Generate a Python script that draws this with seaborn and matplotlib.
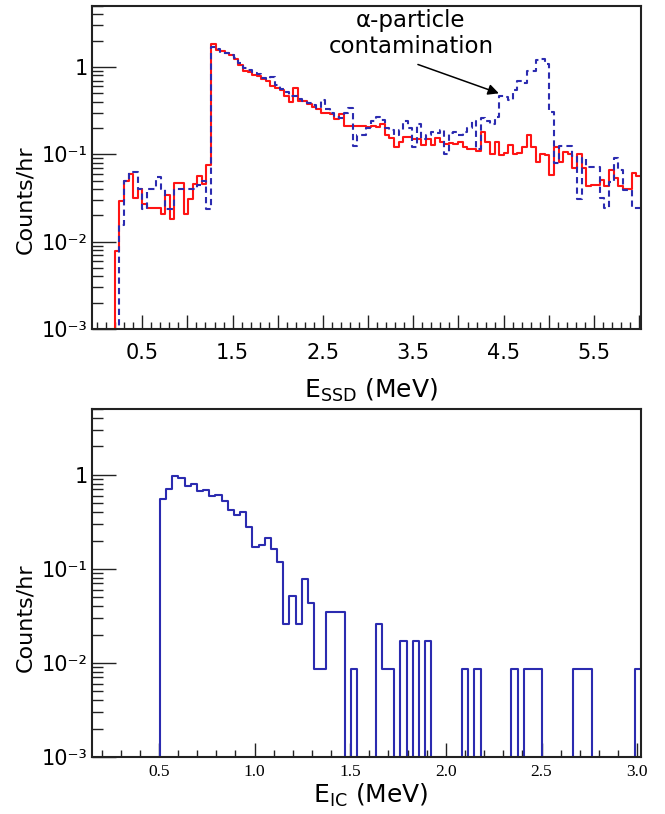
import numpy as np
import pandas as pd
import matplotlib
matplotlib.use("Agg")
import matplotlib.pyplot as plt
import seaborn as sns
from matplotlib.ticker import FixedLocator, FixedFormatter, MultipleLocator, LogLocator, NullFormatter

# ---------------- data ----------------
# SSD spectrum: 120 bins between ssd_lo and ssd_hi (MeV), counts/hr
ssd_lo, ssd_hi, ssd_nbins = -0.056, 6.02, 120
ssd_red = [
    0, 0, 0, 0, 0, 0.0079, 0.029, 0.05, 0.06, 0.0315,
    0.040, 0.027, 0.024, 0.024, 0.024, 0.021, 0.034, 0.018, 0.047, 0.047,
    0.021, 0.031, 0.046, 0.056, 0.046, 0.076, 1.82, 1.58, 1.53, 1.45,
    1.36, 1.22, 1.05, 0.90, 0.87, 0.82, 0.78, 0.72, 0.70, 0.61,
    0.58, 0.55, 0.47, 0.40, 0.57, 0.41, 0.41, 0.38, 0.35, 0.33,
    0.30, 0.30, 0.29, 0.255, 0.29, 0.214, 0.214, 0.214, 0.214, 0.21,
    0.205, 0.21, 0.205, 0.22, 0.165, 0.155, 0.123, 0.14, 0.16, 0.16,
    0.15, 0.15, 0.127, 0.15, 0.127, 0.155, 0.14, 0.13, 0.135, 0.133,
    0.14, 0.12, 0.115, 0.115, 0.11, 0.18, 0.14, 0.10, 0.14, 0.099,
    0.104, 0.129, 0.10, 0.105, 0.123, 0.165, 0.12, 0.081, 0.10, 0.098,
    0.058, 0.123, 0.081, 0.106, 0.10, 0.07, 0.10, 0.069, 0.043, 0.044,
    0.044, 0.051, 0.043, 0.067, 0.053, 0.043, 0.040, 0.040, 0.061, 0.056,
]
ssd_blue = [
    0, 0, 0, 0, 0, 0, 0.0157, 0.05, 0.0625, 0.0625,
    0.0396, 0.0238, 0.0396, 0.0396, 0.055, 0.0396, 0.0238, 0.0238, 0.0396, 0.0396,
    0.0396, 0.0396, 0.0396, 0.045, 0.05, 0.0238, 1.70, 1.60, 1.45, 1.45,
    1.38, 1.28, 1.10, 0.98, 0.93, 0.86, 0.84, 0.75, 0.72, 0.77,
    0.62, 0.56, 0.52, 0.47, 0.46, 0.43, 0.41, 0.39, 0.37, 0.34,
    0.42, 0.33, 0.30, 0.27, 0.26, 0.30, 0.34, 0.126, 0.165, 0.165,
    0.20, 0.24, 0.27, 0.25, 0.20, 0.19, 0.165, 0.188, 0.24, 0.20,
    0.123, 0.22, 0.15, 0.165, 0.18, 0.175, 0.19, 0.10, 0.175, 0.18,
    0.165, 0.18, 0.20, 0.24, 0.115, 0.26, 0.24, 0.22, 0.27, 0.46,
    0.45, 0.415, 0.54, 0.70, 0.66, 0.90, 0.90, 1.19, 1.22, 1.09,
    0.305, 0.079, 0.126, 0.126, 0.126, 0.095, 0.031, 0.091, 0.071, 0.071,
    0.071, 0.032, 0.024, 0.048, 0.09, 0.066, 0.039, 0.039, 0.024, 0.024,
]

# IC spectrum: 89 bins between ic_lo and ic_hi (MeV), counts/hr
ic_lo, ic_hi, ic_nbins = 0.15, 3.02, 89
ic_counts = [
    0, 0, 0, 0, 0, 0, 0, 0, 0, 0,
    0, 0.555, 0.70, 0.976, 0.913, 0.764, 0.80, 0.68, 0.69, 0.60,
    0.61, 0.53, 0.417, 0.375, 0.40, 0.28, 0.172, 0.18, 0.215, 0.163,
    0.119, 0.0257, 0.0514, 0.0257, 0.0775, 0.043, 0.0086, 0.0086, 0.0345, 0.0345,
    0.0345, 0, 0.0086, 0, 0, 0, 0.0258, 0.0086, 0.0086, 0,
    0.0172, 0, 0.0172, 0, 0.0172, 0, 0, 0, 0, 0,
    0.0086, 0, 0.0086, 0, 0, 0, 0, 0, 0.0086, 0,
    0.0086, 0.0086, 0.0086, 0, 0, 0, 0, 0, 0.0086, 0.0086,
    0.0086, 0, 0, 0, 0, 0, 0, 0, 0.0086,
]

ytick_vals = [1e-3, 1e-2, 1e-1, 1]
ytick_labels = ["10⁻³", "10⁻²", "10⁻¹", "1"]
ssd_xtick_vals = [0.5, 1.0, 1.5, 2.0, 2.5, 3.0, 3.5, 4.0, 4.5, 5.0, 5.5, 6.0]
ssd_xtick_labels = ["0.5", "", "1.5", "", "2.5", "", "3.5", "", "4.5", "", "5.5", ""]
ic_xtick_vals = [0.5, 1.0, 1.5, 2.0, 2.5, 3.0]
ic_xtick_labels = ["0.5", "1.0", "1.5", "2.0", "2.5", "3.0"]

# ---------------- style ----------------
sns.set_style("white")
plt.rcParams["font.family"] = ["DejaVu Sans"]
plt.rcParams["mathtext.fontset"] = "dejavusans"
plt.rcParams["mathtext.default"] = "regular"
plt.rcParams["text.color"] = "black"
plt.rcParams["axes.labelcolor"] = "black"
plt.rcParams["xtick.labelcolor"] = "black"
plt.rcParams["ytick.labelcolor"] = "black"

RED = "#ff1414"
BLUE = "#2b2bb0"
FRAME = "#222222"

W, H = 665, 814
fig = plt.figure(figsize=(W / 100, H / 100), dpi=100)
ax1 = fig.add_axes([92 / W, 1 - 329 / H, 549 / W, 323 / H])
ax2 = fig.add_axes([92 / W, 1 - 757 / H, 549 / W, 348 / H])

ssd_edges = list(np.linspace(ssd_lo, ssd_hi, ssd_nbins + 1))
ssd_centers = [0.5 * (a + b) for a, b in zip(ssd_edges[:-1], ssd_edges[1:])]
df_ssd = pd.DataFrame({"E": ssd_centers, "red": ssd_red, "blue": ssd_blue})

ic_edges = list(np.linspace(ic_lo, ic_hi, ic_nbins + 1))
ic_centers = [0.5 * (a + b) for a, b in zip(ic_edges[:-1], ic_edges[1:])]
df_ic = pd.DataFrame({"E": ic_centers, "counts": ic_counts})

for ax in (ax1, ax2):
    ax.set_yscale("log")

sns.histplot(data=df_ssd, x="E", weights="red", bins=ssd_edges, element="step",
             fill=False, color=RED, linewidth=1.5, ax=ax1)
sns.histplot(data=df_ssd, x="E", weights="blue", bins=ssd_edges, element="step",
             fill=False, color=BLUE, linewidth=1.5, linestyle=(0, (3, 2)), ax=ax1)
sns.histplot(data=df_ic, x="E", weights="counts", bins=ic_edges, element="step",
             fill=False, color=BLUE, linewidth=1.5, ax=ax2)

ax1.set_xlim(ssd_lo, ssd_hi)
ax2.set_xlim(ic_lo, ic_hi)
for ax in (ax1, ax2):
    ax.set_ylim(1e-3, 5.0)
    ax.yaxis.set_major_locator(FixedLocator(ytick_vals))
    ax.yaxis.set_major_formatter(FixedFormatter(ytick_labels))
    ax.yaxis.set_minor_locator(LogLocator(base=10, subs=np.arange(2, 10)))
    ax.yaxis.set_minor_formatter(NullFormatter())
    ax.tick_params(axis="y", which="major", direction="in", length=17, width=1.0,
                   color=FRAME, labelsize=15, pad=3, left=True, right=False,
                   labelcolor="black")
    ax.tick_params(axis="y", which="minor", direction="in", length=8, width=1.0,
                   color=FRAME, left=True, right=False)
    ax.tick_params(axis="x", which="both", direction="in", top=False, bottom=True,
                   color=FRAME, width=1.0, labelcolor="black")
    ax.tick_params(axis="x", which="major", length=10)
    ax.tick_params(axis="x", which="minor", length=5)
    ax.xaxis.set_minor_locator(MultipleLocator(0.1))
    for s in ax.spines.values():
        s.set_color(FRAME)
        s.set_linewidth(1.5)
    ax.set_ylabel("Counts/hr", fontsize=16, color="black")
    ax.yaxis.set_label_coords(-0.104, 0.40)

# top x axis
ax1.xaxis.set_major_locator(FixedLocator(ssd_xtick_vals))
ax1.xaxis.set_major_formatter(FixedFormatter(ssd_xtick_labels))
ax1.tick_params(axis="x", labelsize=15, pad=10)
ax1.set_xlabel(r"E$_{\mathregular{SSD}}$ (MeV)", fontsize=18, color="black")
ax1.xaxis.set_label_coords(0.508, -0.148)

# bottom x axis
ax2.xaxis.set_major_locator(FixedLocator(ic_xtick_vals))
ax2.xaxis.set_major_formatter(FixedFormatter(ic_xtick_labels))
ax2.tick_params(axis="x", labelsize=12.5, pad=5)
for lbl in ax2.get_xticklabels():
    lbl.set_fontfamily("Liberation Serif")
ax2.set_xlabel(r"E$_{\mathregular{IC}}$ (MeV)", fontsize=18, color="black")
ax2.xaxis.set_label_coords(0.508, -0.072)

# annotation
ax1.annotate("", xy=(4.447, 0.50), xytext=(3.551, 1.07),
             arrowprops=dict(arrowstyle="-|>", color="black", lw=1.1,
                             mutation_scale=16, shrinkA=0, shrinkB=0))
fig.text(411 / W, 1 - 9 / H, "α-particle\ncontamination", ha="center", va="top",
         fontsize=16.5, linespacing=1.15, color="black")

fig.savefig("out.png", dpi=100)
